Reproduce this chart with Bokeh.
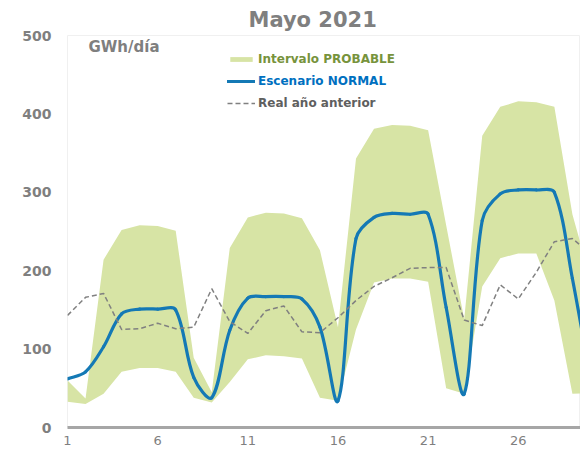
import math
from bokeh.plotting import figure
from bokeh.models import FixedTicker, Range1d, Label, Legend, LegendItem, ColumnDataSource
from bokeh.embed import file_html
from bokeh.resources import INLINE

# ---- data ----
days = list(range(1, 31))
upper = [60, 37, 214, 252, 258, 257, 251, 89, 45, 229,
         268, 274, 273, 267, 226, 128, 343, 381, 386, 385,
         379, 258, 138, 372, 409, 416, 415, 409, 272, 190]
lower = [33, 30, 43, 71, 76, 76, 71, 38, 32, 58,
         87, 92, 91, 88, 38, 34, 125, 185, 190, 190,
         186, 50, 43, 180, 216, 222, 222, 162, 43, 44]
normal = [62, 71, 103, 145, 151, 151, 150, 64, 38, 124,
          165, 167, 167, 164, 128, 34, 241, 268, 273, 272,
          272, 153, 43, 264, 298, 303, 303, 300, 190, 62]
real_prev = [143, 166, 171, 125, 126, 133, 126, 128, 177, 135,
             120, 149, 155, 122, 121, 140, 162, 180, 191, 203,
             204, 204, 137, 130, 182, 164, 198, 237, 241, 222]
x_ticks = [1, 6, 11, 16, 21, 26]
y_ticks = [0, 100, 200, 300, 400, 500]
labels = ["Intervalo PROBABLE", "Escenario NORMAL", "Real año anterior"]

FONT = "DejaVu Sans"
GRAY = "#7f7f7f"
GREEN = "#d7e4a5"
BLUE = "#1479b5"
DASH = "#808080"

W, H = 580, 449
BL, BR, BT, BB = 67, 0, 35, 22
X0, X1 = 1, 29.45
Y0, Y1 = 0, 500

p = figure(width=W, height=H, output_backend="svg", toolbar_location=None,
           x_range=Range1d(X0, X1), y_range=Range1d(Y0, Y1),
           min_border_left=BL, min_border_right=BR, min_border_top=BT, min_border_bottom=BB)

src = ColumnDataSource(dict(day=days, upper=upper, lower=lower, real=real_prev))
r_band = p.varea(x="day", y1="lower", y2="upper", source=src, fill_color=GREEN)

# smoothed line (Excel-style, chord-weighted) drawn as bezier segments through the data points
sx = (W - BL - BR) / (X1 - X0)
sy = (H - BT - BB) / (Y1 - Y0)
n = len(days)
pts = list(zip(days, normal))

def dist(a, b):
    return math.hypot((b[0] - a[0]) * sx, (b[1] - a[1]) * sy)

t = 1 / 3
seg = dict(x0=[], y0=[], x1=[], y1=[], cx0=[], cy0=[], cx1=[], cy1=[])
for i in range(n - 1):
    pa, pb = pts[i], pts[i + 1]
    pm = pts[i - 1] if i > 0 else pa
    pp = pts[i + 2] if i + 2 < n else pb
    d_ab = dist(pa, pb)
    d_ma = dist(pm, pa)
    d_bp = dist(pb, pp)
    fa = t * d_ab / (d_ma + d_ab) if (d_ma + d_ab) > 0 else 0
    fb = t * d_ab / (d_ab + d_bp) if (d_ab + d_bp) > 0 else 0
    seg["x0"].append(pa[0]); seg["y0"].append(pa[1])
    seg["x1"].append(pb[0]); seg["y1"].append(pb[1])
    seg["cx0"].append(pa[0] + (pb[0] - pm[0]) * fa)
    seg["cy0"].append(pa[1] + (pb[1] - pm[1]) * fa)
    seg["cx1"].append(pb[0] - (pp[0] - pa[0]) * fb)
    seg["cy1"].append(pb[1] - (pp[1] - pa[1]) * fb)
r_norm = p.bezier(x0="x0", y0="y0", x1="x1", y1="y1", cx0="cx0", cy0="cy0", cx1="cx1", cy1="cy1",
                  source=ColumnDataSource(seg), line_color=BLUE, line_width=3.2, line_cap="round")

r_real = p.line(x="day", y="real", source=src, line_color=DASH, line_width=1.5, line_dash="5 3")

def add_leg(label, renderer, color, vy, gh):
    leg = Legend(items=[LegendItem(label=label, renderers=[renderer])], location=(160, vy),
                 padding=0, margin=0, spacing=0, border_line_color=None,
                 background_fill_alpha=0, glyph_width=28, glyph_height=gh,
                 label_height=14, label_standoff=3, label_text_font=FONT,
                 label_text_font_size="12px", label_text_font_style="bold",
                 label_text_color=color)
    p.add_layout(leg)

add_leg(labels[0], r_band, "#77933c", 361, 6)
add_leg(labels[1], r_norm, "#0070c0", 339, 14)
add_leg(labels[2], r_real, "#5f5f5f", 317, 14)

p.add_layout(Label(x=21, y=381, x_units="screen", y_units="screen", text="GWh/día",
                   text_font=FONT, text_font_size="15px", text_font_style="bold",
                   text_color=GRAY, text_baseline="middle"))

p.title.text = "Mayo 2021"
p.title.text_font = FONT
p.title.text_font_size = "21px"
p.title.text_font_style = "bold"
p.title.text_color = GRAY
p.title.align = "left"
p.title.offset = 181
p.title.standoff = 8

p.xaxis.ticker = FixedTicker(ticks=x_ticks)
p.xaxis.axis_line_color = "#a6a6a6"
p.xaxis.axis_line_width = 3
p.xaxis.major_tick_line_color = None
p.xaxis.minor_tick_line_color = None
p.xaxis.major_label_text_font = FONT
p.xaxis.major_label_text_font_size = "13px"
p.xaxis.major_label_text_color = GRAY
p.xaxis.major_label_standoff = 2

p.yaxis.ticker = FixedTicker(ticks=y_ticks)
p.yaxis.axis_line_color = None
p.yaxis.major_tick_line_color = None
p.yaxis.minor_tick_line_color = None
p.yaxis.major_label_text_font = FONT
p.yaxis.major_label_text_font_size = "14px"
p.yaxis.major_label_text_font_style = "bold"
p.yaxis.major_label_text_color = GRAY
p.yaxis.major_label_standoff = 10

p.xgrid.grid_line_color = None
p.ygrid.grid_line_color = None
p.outline_line_color = "#f0f0f0"
p.background_fill_color = "white"
p.border_fill_color = "white"

open("out.html", "w").write(file_html(p, INLINE))
